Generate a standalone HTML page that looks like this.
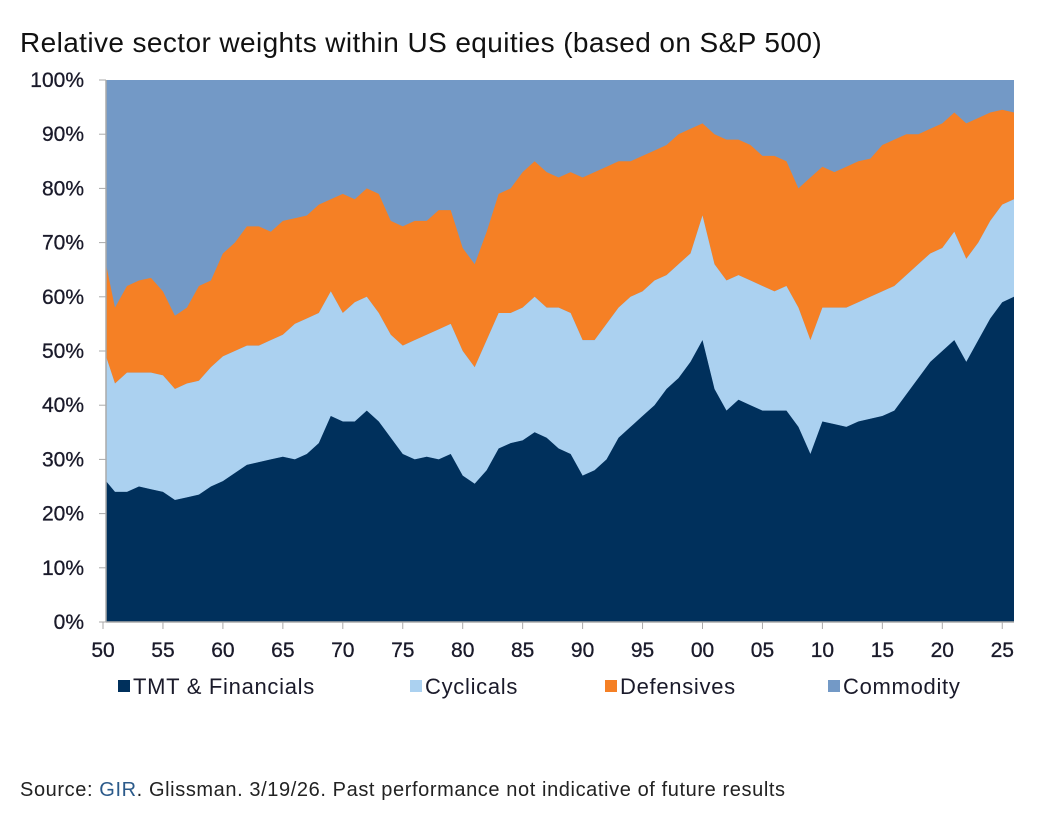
<!DOCTYPE html>
<html><head><meta charset="utf-8"><style>
body{margin:0;background:#fff;width:1047px;height:832px;overflow:hidden;font-family:"Liberation Sans",sans-serif}
</style></head><body>
<div style="position:absolute;left:20px;top:27px;font-size:28px;letter-spacing:0.4px;color:#111">Relative sector weights within US equities (based on S&amp;P 500)</div>
<svg id="chart" width="1047" height="760" style="position:absolute;left:0;top:0"></svg>
<div style="position:absolute;left:20px;top:779px;font-size:20px;letter-spacing:0.6px;color:#222">Source: <span style="color:#2b5a8a">GIR</span>. Glissman. 3/19/26. Past performance not indicative of future results</div>
<script>
const years=[1950,1951,1952,1953,1954,1955,1956,1957,1958,1959,1960,1961,1962,1963,1964,1965,1966,1967,1968,1969,1970,1971,1972,1973,1974,1975,1976,1977,1978,1979,1980,1981,1982,1983,1984,1985,1986,1987,1988,1989,1990,1991,1992,1993,1994,1995,1996,1997,1998,1999,2000,2001,2002,2003,2004,2005,2006,2007,2008,2009,2010,2011,2012,2013,2014,2015,2016,2017,2018,2019,2020,2021,2022,2023,2024,2025,2026];
const tmt=[26,24,24,25,24.5,24,22.5,23,23.5,25,26,27.5,29,29.5,30,30.5,30,31,33,38,37,37,39,37,34,31,30,30.5,30,31,27,25.5,28,32,33,33.5,35,34,32,31,27,28,30,34,36,38,40,43,45,48,52,43,39,41,40,39,39,39,36,31,37,36.5,36,37,37.5,38,39,42,45,48,50,52,48,52,56,59,60];
const cyclicalsTop=[49,44,46,46,46,45.5,43,44,44.5,47,49,50,51,51,52,53,55,56,57,61,57,59,60,57,53,51,52,53,54,55,50,47,52,57,57,58,60,58,58,57,52,52,55,58,60,61,63,64,66,68,75,66,63,64,63,62,61,62,58,52,58,58,58,59,60,61,62,64,66,68,69,72,67,70,74,77,78];
const defensivesTop=[66,58,62,63,63.5,61,56.5,58,62,63,68,70,73,73,72,74,74.5,75,77,78,79,78,80,79,74,73,74,74,76,76,69,66,72,79,80,83,85,83,82,83,82,83,84,85,85,86,87,88,90,91,92,90,89,89,88,86,86,85,80,82,84,83,84,85,85.5,88,89,90,90,91,92,94,92,93,94,94.5,94];
const yTicks=[0,10,20,30,40,50,60,70,80,90,100];
const xTickLabels=["50","55","60","65","70","75","80","85","90","95","00","05","10","15","20","25"];
const NS="http://www.w3.org/2000/svg",svg=document.getElementById('chart');
const L=106,R=1014,T=80,B=622;
const x=y=>Math.min(R,Math.max(L,103+(y-1950)*11.99));
const yv=v=>B-(B-T)*v/100;
function mk(t,a){const e=document.createElementNS(NS,t);for(const k in a)e.setAttribute(k,a[k]);svg.appendChild(e);return e;}
function area(top,bot,fill,name){let d='M'+x(years[0])+','+yv(top[0]);years.forEach((yr,i)=>d+='L'+x(yr)+','+yv(top[i]));for(let i=years.length-1;i>=0;i--)d+='L'+x(years[i])+','+yv(bot?bot[i]:0);const p=mk('path',{d:d+'Z',fill:fill});

}
const bg=mk('rect',{x:L,y:T,width:R-L,height:B-T,fill:'#7399c6'});


area(defensivesTop,cyclicalsTop,'#f58025','defensives-area');
area(cyclicalsTop,tmt,'#abd1f0','cyclicals-area');
area(tmt,null,'#00305c','tmt-financials-area');
mk('line',{x1:L,y1:T,x2:L,y2:B,stroke:'#aaa','stroke-width':1.5});
mk('line',{x1:L,y1:B,x2:R,y2:B,stroke:'#aaa','stroke-width':1.5});
yTicks.forEach(v=>{mk('line',{x1:L-7,y1:yv(v),x2:L,y2:yv(v),stroke:'#aaa'});
const t=mk('text',{x:L-22,y:yv(v)+7,'text-anchor':'end','font-size':21,fill:'#1a1a2a','stroke':'#1a1a2a','stroke-width':0.3});t.textContent=v+'%';

});
xTickLabels.forEach((s,i)=>{const xx=103+i*59.95;mk('line',{x1:xx-0,y1:B,x2:xx,y2:B+7,stroke:'#aaa'});
const t=mk('text',{x:xx,y:B+35,'text-anchor':'middle','font-size':21,fill:'#1a1a2a','stroke':'#1a1a2a','stroke-width':0.3});t.textContent=s;

});
const legend=[["TMT & Financials","#00305c",118],["Cyclicals","#abd1f0",410],["Defensives","#f58025",605],["Commodity","#7399c6",828]];
legend.forEach(l=>{const r=mk('rect',{x:l[2],y:680,width:12,height:12,fill:l[1]});


const t=mk('text',{x:l[2]+15,y:694,'font-size':22,'letter-spacing':0.7,fill:'#1a1a2a'});t.textContent=l[0];

});
</script>
</body></html>
